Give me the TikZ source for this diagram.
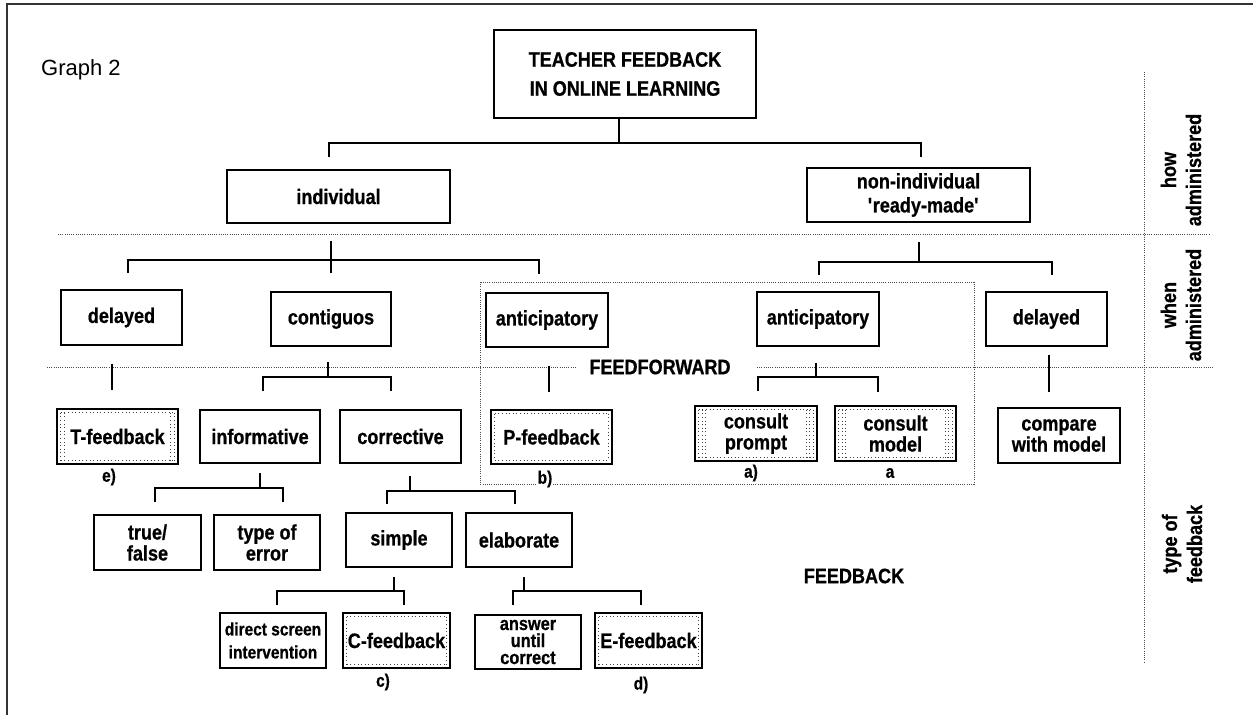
\documentclass[tikz,border=0pt]{standalone}
\usepackage{fontspec}
\setmainfont{Liberation Sans}
\newfontfamily\nar[FakeStretch=0.86, BoldFeatures={FakeBold=0.7}]{Liberation Sans}
\usetikzlibrary{calc}
\tikzset{
  box/.style={draw, line width=2.6pt, inner sep=0pt, align=center,
    font=\nar\bfseries\fontsize{21}{21}\selectfont},
  conn/.style={line width=2.6pt},
  dotline/.style={line width=0.8pt, black!70, dash pattern=on 1pt off 1.2pt},
  innerdot/.style={line width=1pt, black!75, dash pattern=on 1pt off 2.6pt},
  lab/.style={font=\nar\bfseries\fontsize{18}{19}\selectfont, inner sep=1pt},
  side/.style={rotate=90, align=center, font=\nar\bfseries\fontsize{21}{25}\selectfont},
  big/.style={font=\nar\bfseries\fontsize{21}{22}\selectfont}
}
% dotted band inside a box: #1 node, #2 insets of the side columns
\newcommand\dotbox[2]{%
  \draw[innerdot] ($(#1.north west)+(5,5)$) -- ($(#1.north east)+(-5,5)$);
  \draw[innerdot] ($(#1.south west)+(5,-5)$) -- ($(#1.south east)+(-5,-5)$);
  \foreach \d in {#2}{%
    \draw[innerdot] ($(#1.north west)+(\d,5)$) -- ($(#1.south west)+(\d,-5)$);
    \draw[innerdot] ($(#1.north east)+(-\d,5)$) -- ($(#1.south east)+(-\d,-5)$);}}
\begin{document}
\begin{tikzpicture}[x=1pt,y=-1pt]
\useasboundingbox (0,0) rectangle (1253,715);
% frame
\draw[line width=2pt, black!80] (7,715) -- (7,4) -- (1253,4);
\node[font=\fontsize{22}{24}\selectfont, anchor=base west, inner sep=0pt] (g) at (41,75) {Graph 2};

% level 0-1
\node[box, minimum width=262pt, minimum height=88pt] (top) at (625,74) {TEACHER FEEDBACK\\[8pt]IN ONLINE LEARNING};
\node[box, minimum width=223pt, minimum height=53pt] (indiv) at (338.5,196.5) {individual};
\node[box, minimum width=223pt, minimum height=54pt, font=\nar\bfseries\fontsize{21}{24}\selectfont] (nonind) at (918.5,195) {non-individual\\\hspace*{10pt}\textquotesingle ready-made\textquotesingle};

% level 2
\node[box, minimum width=121pt, minimum height=55pt] (delL) at (121.5,317.5) {delayed};
\node[box, minimum width=120pt, minimum height=54pt] (contig) at (331,319) {contiguos};
\node[box, minimum width=122pt, minimum height=54pt] (antL) at (547,320) {anticipatory};
\node[box, minimum width=122pt, minimum height=54pt] (antR) at (818,319) {anticipatory};
\node[box, minimum width=121pt, minimum height=54pt] (delR) at (1046.5,319) {delayed};

% level 3
\node[box, minimum width=121pt, minimum height=55pt] (tfb) at (117.5,436.5) {T-feedback};
\node[box, minimum width=120pt, minimum height=53pt] (inform) at (260,436.5) {informative};
\node[box, minimum width=121pt, minimum height=53pt] (correct) at (400.5,436.5) {corrective};
\node[box, minimum width=121pt, minimum height=54pt] (pfb) at (551.5,437) {P-feedback};
\node[box, minimum width=122pt, minimum height=55pt] (cprompt) at (756,433.5) {consult\\prompt};
\node[box, minimum width=121pt, minimum height=55pt] (cmodel) at (895.5,433.5) {consult\\model};
\node[box, minimum width=122pt, minimum height=55pt] (compare) at (1059,435.5) {compare\\with model};

% level 4
\node[box, minimum width=107pt, minimum height=55pt] (truef) at (147.5,542.5) {true/\\false};
\node[box, minimum width=106pt, minimum height=55pt] (typeerr) at (267,542.5) {type of\\error};
\node[box, minimum width=106pt, minimum height=54pt] (simple) at (399,540) {simple};
\node[box, minimum width=106pt, minimum height=54pt] (elab) at (519,540) {elaborate};

% level 5
\node[box, minimum width=106pt, minimum height=55pt, font=\nar\bfseries\fontsize{18}{23}\selectfont] (direct) at (273,640.5) {direct screen\\intervention};
\node[box, minimum width=107pt, minimum height=55pt] (cfb) at (396.5,640.5) {C-feedback};
\node[box, minimum width=106pt, minimum height=54pt, font=\nar\bfseries\fontsize{19}{17}\selectfont] (answer) at (528,642) {answer\\until\\correct};
\node[box, minimum width=107pt, minimum height=55pt] (efb) at (648.5,640.5) {E-feedback};

% dotted inner borders
\dotbox{tfb}{5,8.5}
\dotbox{pfb}{5}
\dotbox{cprompt}{5,8.5,12}
\dotbox{cmodel}{5,8.5,12}
\dotbox{cfb}{5}
\dotbox{efb}{5}

% separators
\draw[dotline] (58,234) -- (1209,234);
\draw[dotline] (47,367) -- (577,367);
\draw[dotline] (757,367) -- (1213,367);
\draw[dotline] (1144,72) -- (1144,662);
\draw[dotline] (480,282) rectangle (974,484);

% side labels
\node[side] (how) at (1181,170) {how\\administered};
\node[side] (when) at (1181,305) {when\\administered};
\node[side] (tof) at (1182,544) {type of\\feedback};

\node[big] (ff) at (660,367) {FEEDFORWARD};
\node[big] (fb) at (854,576) {FEEDBACK};

% letter labels
\node[lab] (le) at (109,477) {e)};
\node[lab, fill=white] (lb) at (545,479) {b)};
\node[lab] (lc) at (383,682) {c)};
\node[lab] (ld) at (641,685) {d)};
\node[lab] (la1) at (751,473) {a)};
\node[lab] (la2) at (890,473) {a};

% connectors
\coordinate (b0) at (0,143);
\draw[conn] ($(top.south)+(-6,0)$) -- ($(top.south |- b0)+(-6,0)$);
\draw[conn] ($(indiv.north |- b0)+(-9.5,14)$) -- ++(0,-14) -- ($(nonind.north |- b0)+(2.5,0)$) -- ++(0,14);

\coordinate (b1) at (0,260);
\draw[conn] ($(indiv.south)+(-7.5,17)$) -- ($(indiv.south |- b1)+(-7.5,13)$);
\draw[conn] ($(delL.north |- b1)+(6.5,13)$) -- ++(0,-13) -- ($(antL.north |- b1)+(-8,0)$) -- ++(0,14);

\coordinate (b2) at (0,262);
\draw[conn] ($(nonind.south)+(0.5,19)$) -- ($(nonind.south |- b2)+(0.5,0)$);
\draw[conn] ($(antR.north |- b2)+(1,13)$) -- ++(0,-13) -- ($(delR.north |- b2)+(5.5,0)$) -- ++(0,13);

\coordinate (b3) at (0,377);
\draw[conn] ($(contig.south)+(-3,15)$) -- ($(contig.south |- b3)+(-3,0)$);
\draw[conn] ($(inform.north |- b3)+(3,14)$) -- ++(0,-14) -- ($(correct.north |- b3)+(-9.5,0)$) -- ++(0,14);

\draw[conn] ($(tfb.north)+(-5.5,-44)$) -- ($(tfb.north)+(-5.5,-18)$);
\draw[conn] ($(pfb.north)+(-2.5,-43)$) -- ($(pfb.north)+(-2.5,-17)$);
\draw[conn] ($(compare.north)+(-10,-52)$) -- ($(compare.north)+(-10,-15)$);

\coordinate (b4) at (0,377);
\draw[conn] ($(antR.south)+(-2,16)$) -- ($(antR.south |- b4)+(-2,0)$);
\draw[conn] ($(cprompt.north |- b4)+(2,14)$) -- ++(0,-14) -- ($(cmodel.north |- b4)+(-17.5,0)$) -- ++(0,15);

\coordinate (b5) at (0,488);
\draw[conn] ($(inform.south)+(0,9)$) -- (inform.south |- b5);
\draw[conn] ($(truef.north |- b5)+(7.5,14)$) -- ++(0,-14) -- ($(typeerr.north |- b5)+(16,0)$) -- ++(0,14);

\coordinate (b6) at (0,491);
\draw[conn] ($(correct.south)+(9.5,12)$) -- ($(correct.south |- b6)+(9.5,0)$);
\draw[conn] ($(simple.north |- b6)+(-12,13)$) -- ++(0,-13) -- ($(elab.north |- b6)+(-4,0)$) -- ++(0,13);

\coordinate (b7) at (0,591);
\draw[conn] ($(simple.south)+(-5,9)$) -- ($(simple.south |- b7)+(-5,0)$);
\draw[conn] ($(direct.north |- b7)+(4,14)$) -- ++(0,-14) -- ($(cfb.north |- b7)+(7.5,0)$) -- ++(0,14);

\coordinate (b8) at (0,591);
\draw[conn] ($(elab.south)+(5,9)$) -- ($(elab.south |- b8)+(5,0)$);
\draw[conn] ($(answer.north |- b8)+(-15,14)$) -- ++(0,-14) -- ($(efb.north |- b8)+(-7.5,0)$) -- ++(0,14);
\end{tikzpicture}
\end{document}
